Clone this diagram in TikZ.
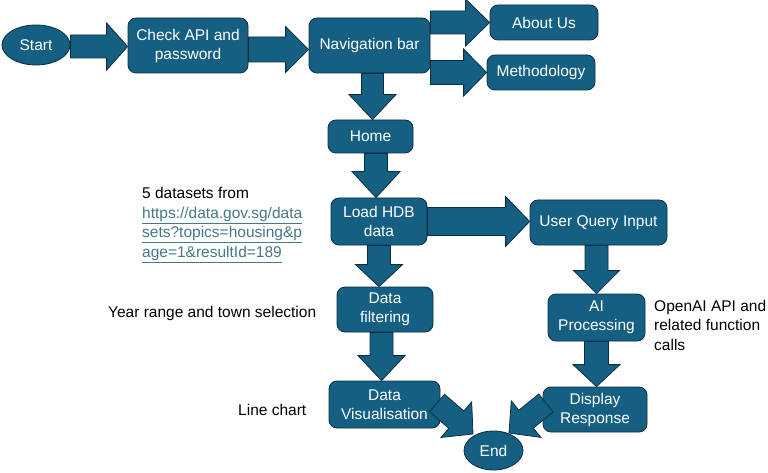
\documentclass[tikz,border=0pt]{standalone}
\usepackage{fontspec}
\setmainfont{Liberation Sans}
\usetikzlibrary{calc,shapes.geometric}
\definecolor{boxfill}{HTML}{156082}
\definecolor{boxline}{HTML}{0B2F40}
\definecolor{linkcol}{HTML}{467886}
\newcommand\blockarrow[5]{%
  \coordinate (ba-h) at ($(#2)!#5pt!(#1)$);
  \path[barrow]
   ($(#1)!#3pt!90:(#2)$) -- ($(ba-h)!#3pt!-90:(#1)$) -- ($(ba-h)!#4pt!-90:(#1)$) -- (#2)
   -- ($(ba-h)!#4pt!90:(#1)$) -- ($(ba-h)!#3pt!90:(#1)$) -- ($(#1)!#3pt!-90:(#2)$) -- cycle;
}
\tikzset{
  box/.style={draw=boxline, fill=boxfill, rounded corners=8pt, text=white,
    font=\fontsize{15.5}{19}\selectfont, align=center, inner sep=0pt, line width=0.8pt},
  oval/.style={ellipse, draw=boxline, fill=boxfill, text=white,
    font=\fontsize{15.5}{19}\selectfont, inner sep=0pt, line width=0.8pt},
  barrow/.style={fill=boxfill, draw=boxline, line width=0.8pt, line join=miter},
  note/.style={font=\fontsize{15.5}{19.5}\selectfont, align=left, inner sep=0pt, anchor=west}
}
\begin{document}
\begin{tikzpicture}[x=1pt,y=-1pt]
\useasboundingbox[fill=white] (0,0) rectangle (768,473);
% nodes
\node[oval, minimum width=68pt, minimum height=40pt] (start) at (36,45) {Start};
\node[box, minimum width=120pt, minimum height=55pt] (check) at (188,45.5) {Check API and\\password};
\node[box, minimum width=121pt, minimum height=55pt] (nav) at (369.5,45.5) {Navigation bar};
\node[box, minimum width=108pt, minimum height=35pt] (about) at (544,22.5) {About Us};
\node[box, minimum width=108pt, minimum height=35pt] (meth) at (541,72.5) {Methodology};
\node[box, minimum width=85pt, minimum height=33pt] (home) at (370.5,136.5) {Home};
\node[box, minimum width=96pt, minimum height=47pt] (load) at (379,221.5) {Load HDB\\data};
\node[box, minimum width=137pt, minimum height=45pt] (user) at (598.5,222.5) {User Query Input};
\node[box, minimum width=96pt, minimum height=45pt] (filter) at (385,309.5) {Data\\filtering};
\node[box, minimum width=97pt, minimum height=47pt] (ai) at (596.5,317.5) {AI\\Processing};
\node[box, minimum width=111pt, minimum height=47pt] (vis) at (384.5,404.5) {Data\\Visualisation};
\node[box, minimum width=104pt, minimum height=45pt] (disp) at (595,409.5) {Display\\Response};
\node[oval, minimum width=59pt, minimum height=39pt] (end) at (493.5,450.5) {End};
% notes
\node[note] (src) at (142,225) {5 datasets from\\
  \textcolor{linkcol}{\underline{https://data.gov.sg/data}}\\
  \textcolor{linkcol}{\underline{sets?topics=housing\&p}}\\
  \textcolor{linkcol}{\underline{age=1\&resultId=189}}};
\node[note] (yr) at (108,313) {Year range and town selection};
\node[note] (oa) at (654,325) {OpenAI API and\\related function\\calls};
\node[note] (lc) at (238,410) {Line chart};
% arrow end points
\coordinate (a1) at ($(start.east)+(0,1.5)$);
\coordinate (b1) at ($(check.west)+(0,1)$);
\coordinate (a2) at ($(check.east)+(0,4)$);
\coordinate (b2) at ($(nav.west)+(0,4)$);
\coordinate (a3) at (nav.east |- about.west);
\coordinate (a4) at (nav.east |- meth.west);
\coordinate (b5) at ($(home.north)+(2,0)$);
\coordinate (a5) at (b5 |- nav.south);
\coordinate (a6) at ($(home.south)+(5.5,0)$);
\coordinate (b6) at (a6 |- load.north);
\coordinate (b7) at (user.west |- load.east);
\coordinate (a8) at (ai.north |- user.south);
\coordinate (b9) at (ai.south |- disp.north);
\coordinate (b10) at (load.south |- filter.north);
\coordinate (a11) at ($(filter.south)+(-3.5,0)$);
\coordinate (b11) at (a11 |- vis.north);
\coordinate (a12) at (437,403);
\coordinate (b12) at (473,434);
\coordinate (a13) at (546,403);
\coordinate (b13) at (509,433);
% block arrows
\blockarrow{a1}{b1}{11.5}{23.5}{21}
\blockarrow{a2}{b2}{12.5}{23}{23}
\blockarrow{a3}{about.west}{11.5}{23.5}{24}
\blockarrow{a4}{meth.west}{12}{23.5}{23}
\blockarrow{a5}{b5}{11}{23.5}{25}
\blockarrow{a6}{b6}{11.5}{24}{26}
\blockarrow{load.east}{b7}{14}{25}{24}
\blockarrow{a8}{ai.north}{11.5}{23}{23}
\blockarrow{ai.south}{b9}{12}{23.5}{22}
\blockarrow{load.south}{b10}{11.5}{23.5}{22}
\blockarrow{a11}{b11}{11.5}{23.5}{25}
\blockarrow{a12}{b12}{11.5}{23.5}{22}
\blockarrow{a13}{b13}{11.5}{23.5}{22}
\end{tikzpicture}
\end{document}
